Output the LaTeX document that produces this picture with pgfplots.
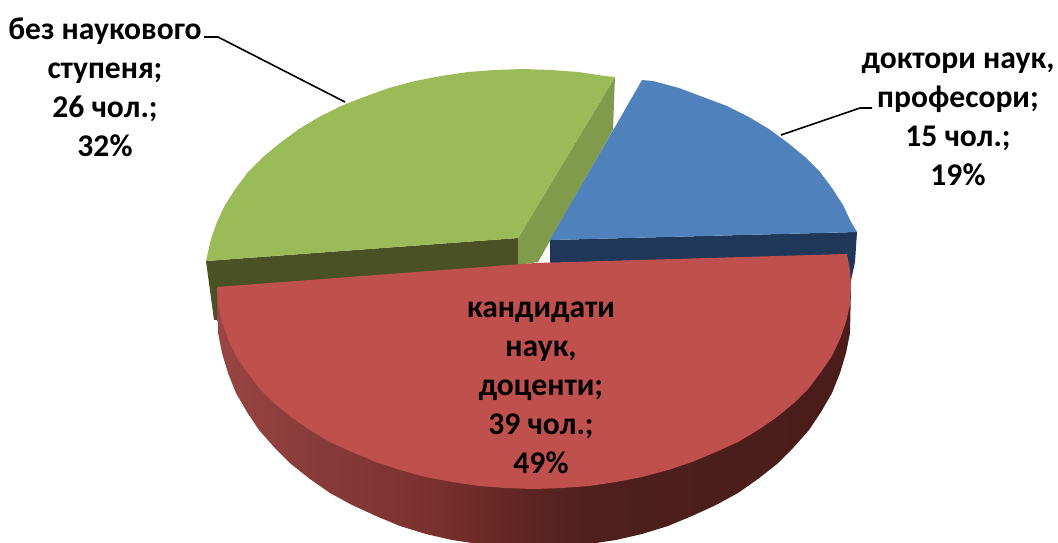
\documentclass[border=0pt]{standalone}
\usepackage{fontspec}
\setmainfont{Carlito}
\usepackage{pgfplots}
\pgfplotsset{compat=1.18}
\definecolor{gTop}{HTML}{9BBB59}
\definecolor{gIn}{HTML}{4A5225}
\definecolor{gRight}{HTML}{7F9B4B}
\definecolor{bTop}{HTML}{4F81BD}
\definecolor{bIn}{HTML}{1F3759}
\definecolor{rTop}{HTML}{C0504D}
\definecolor{sA}{HTML}{9A4543}
\definecolor{sB}{HTML}{883C39}
\definecolor{sC}{HTML}{7A312D}
\definecolor{sD}{HTML}{5C2421}
\definecolor{sE}{HTML}{4E1F1C}
\definecolor{sF}{HTML}{4A1D1A}
\pgfdeclarehorizontalshading{redside}{100bp}{
 color(0bp)=(sA);
 color(25bp)=(sA);
 color(32.5bp)=(sB);
 color(42bp)=(sC);
 color(50bp)=(sD);
 color(55bp)=(sE);
 color(75bp)=(sF);
 color(100bp)=(sF)}
\newcommand{\lab}[3]{\node[align=center,font=\fontsize{31.6}{39}\selectfont\bfseries,inner sep=0pt] at (axis cs:#1,#2) {#3};}
\begin{document}
\begin{tikzpicture}
\useasboundingbox (0,0) rectangle (1058pt,542pt);
\begin{axis}[at={(0,0)},anchor=south west,width=1058pt,height=542pt,scale only axis,xmin=0,xmax=1058,ymin=0,ymax=542,y dir=reverse,hide axis,clip=true]
% green inner and right walls
\addplot[draw=none,fill=gIn] coordinates {(206,261)(518,238)(518,300)(214,320)} -- cycle;
\addplot[draw=none,fill=gRight] coordinates {(518,238)(615,77)(613,130)(538,262)(518,265)} -- cycle;
% green top
\addplot[draw=none,fill=gTop] coordinates {(518,238)(206,261)(211,239)(217,222)(225,205)(236,188)(248,172)(263,157)(280,143)(299,129)(319,117)(341,106)(364,97)(389,88)(415,81)(441,76)(468,72)(495,70)(523,69)(551,70)(578,72)(605,76)(615,77)} -- cycle;
% blue wall and top
\addplot[draw=none,fill=bIn] coordinates {(550,240)(857,232)(855,262)(850,285)(550,290)} -- cycle;
\addplot[draw=none,fill=bTop] coordinates {(550,240)(642,80)(653,81)(679,88)(703,97)(727,106)(749,117)(769,129)(788,143)(805,157)(820,172)(832,188)(843,205)(851,222)(857,232)} -- cycle;
% red side
\addplot[draw=none,shading=redside] coordinates {(851,287)(850,333)(846,353)(840,373)(832,393)(821,412)(809,430)(794,447)(777,464)(758,479)(738,493)(716,505)(692,516)(668,526)(642,534)(616,540)(589,544)(562,547)(534,548)(506,547)(479,544)(452,540)(426,534)(400,526)(376,516)(352,505)(330,493)(310,479)(291,464)(274,447)(259,430)(247,412)(236,393)(228,373)(222,353)(218,333)(217,287)} -- cycle;
% red top
\addplot[draw=none,fill=rTop] coordinates {(535,263)(847,254)(850,270)(851,287)(850,305)(846,322)(840,339)(832,356)(821,372)(809,388)(794,403)(777,417)(758,430)(738,442)(716,452)(692,462)(668,470)(642,477)(616,482)(589,486)(562,488)(534,489)(506,488)(479,486)(452,482)(426,477)(400,470)(376,462)(352,452)(330,442)(310,430)(291,417)(274,403)(259,388)(247,372)(236,356)(228,339)(222,322)(218,305)(217,287)} -- cycle;
% leaders
\addplot[black,line width=1.6pt] coordinates {(204,37)(218,37)(345,102)};
\addplot[black,line width=1.6pt] coordinates {(781,135)(860,108)(872,108)};
\lab{105}{87}{без наукового\\ступеня;\\26 чол.;\\32\%}
\lab{958}{119}{доктори наук,\\професори;\\15 чол.;\\19\%}
\lab{541}{388}{кандидати\\наук,\\доценти;\\39 чол.;\\49\%}
\end{axis}
\end{tikzpicture}
\end{document}
